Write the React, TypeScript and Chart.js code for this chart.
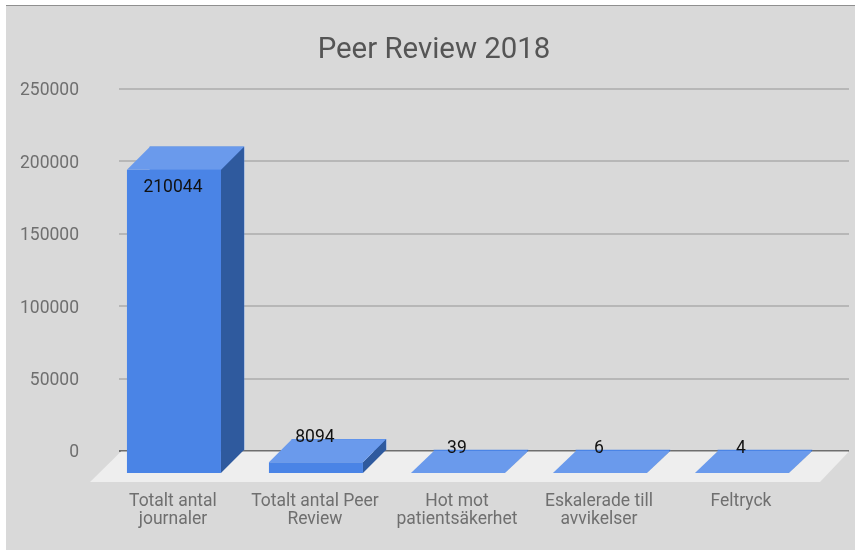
import { useEffect, useRef } from "react";
import { Chart, registerables } from "chart.js";

Chart.register(...registerables);

const categories = [
  ["Totalt antal", "journaler"],
  ["Totalt antal Peer", "Review"],
  ["Hot mot", "patientsäkerhet"],
  ["Eskalerade till", "avvikelser"],
  ["Feltryck"],
];
const values = [210044, 8094, 39, 6, 4];
const yTicks = [0, 50000, 100000, 150000, 200000, 250000];
const chartTitle = "Peer Review 2018";

const DEPTH = 23;
const FLOOR_DEPTH = 31;
const FONT = "Roboto";

const faces = {
  front: "#4a84e6",
  top: "#6a9aec",
  side: "#2f5a9e",
  panel: "#d9d9d9",
  floor: "#eeeeee",
};

// Extrudes each bar towards the viewer and prints its value.
const extrusion = {
  id: "extrusion",
  beforeDraw(chart: any) {
    const { ctx, width } = chart;
    ctx.save();
    ctx.fillStyle = "#ffffff";
    ctx.fillRect(0, 0, width, chart.height);
    ctx.fillStyle = faces.panel;
    ctx.fillRect(6, 6, width - 6, 544);
    ctx.fillStyle = "#8f8f8f";
    ctx.fillRect(6, 5, width - 6, 1);
    ctx.restore();
  },
  beforeDatasetsDraw(chart: any) {
    const { ctx, chartArea, scales } = chart;
    const y0 = scales.y.getPixelForValue(0);
    ctx.save();
    ctx.fillStyle = faces.floor;
    ctx.beginPath();
    ctx.moveTo(chartArea.left + 2, y0 + 0.5);
    ctx.lineTo(chartArea.right, y0 + 0.5);
    ctx.lineTo(chartArea.right - 29, y0 + FLOOR_DEPTH);
    ctx.lineTo(chartArea.left - 29, y0 + FLOOR_DEPTH);
    ctx.closePath();
    ctx.fill();
    ctx.restore();
  },
  afterDatasetsDraw(chart: any) {
    const { ctx, scales } = chart;
    const y0 = scales.y.getPixelForValue(0);
    const bars = chart.getDatasetMeta(0).data;
    ctx.save();
    bars.forEach((bar: any, i: number) => {
      const half = bar.width / 2;
      const backL = bar.x - half;
      const backR = bar.x + half;
      const top = bar.y;
      const frontL = backL - DEPTH;
      const frontR = backR - DEPTH;
      const frontBase = y0 + DEPTH - 1;
      const frontTop = Math.min(top + DEPTH, frontBase);

      ctx.fillStyle = faces.side;
      ctx.beginPath();
      ctx.moveTo(frontR, frontTop);
      ctx.lineTo(backR, top);
      ctx.lineTo(backR, y0 - 1);
      ctx.lineTo(frontR, frontBase);
      ctx.closePath();
      ctx.fill();

      ctx.fillStyle = faces.top;
      ctx.beginPath();
      ctx.moveTo(frontL, frontTop);
      ctx.lineTo(backL, top);
      ctx.lineTo(backR, top);
      ctx.lineTo(frontR, frontTop);
      ctx.closePath();
      ctx.fill();

      ctx.fillStyle = faces.front;
      ctx.fillRect(frontL, frontTop, frontR - frontL, frontBase - frontTop);

      const tall = y0 - top > 100;
      ctx.fillStyle = "#111111";
      ctx.font = `17.5px ${FONT}`;
      ctx.textAlign = "center";
      ctx.textBaseline = "middle";
      ctx.fillText(
        String(values[i]),
        bar.x - DEPTH - 1,
        tall ? frontTop + 18 : top - 2,
      );
    });
    ctx.restore();
  },
};

export default function App() {
  const canvas = useRef<HTMLCanvasElement>(null);

  useEffect(() => {
    const chart = new Chart(canvas.current!, {
      type: "bar",
      data: {
        datasets: [
          {
            data: values.map((v, i) => ({ x: i, y: v })),
            backgroundColor: faces.front,
            barThickness: 94,
          },
        ],
      },
      options: {
        animation: false,
        responsive: false,
        layout: { padding: { left: 19, right: 6, top: 0, bottom: 0 } },
        plugins: {
          legend: { display: false },
          tooltip: { enabled: false },
          title: {
            display: true,
            text: chartTitle,
            color: "#555555",
            font: { family: FONT, size: 29.4, weight: "normal" },
            padding: { top: 33, bottom: 20.7 },
          },
        },
        scales: {
          x: {
            type: "linear",
            min: -0.549,
            max: 4.592,
            offset: false,
            grid: { display: false },
            border: { display: false },
            afterBuildTicks: (axis: any) => {
              axis.ticks = values.map((_, i) => ({ value: i }));
            },
            afterFit: (axis: any) => {
              axis.height = 100;
            },
            ticks: {
              autoSkip: false,
              maxRotation: 0,
              labelOffset: -24,
              padding: 34,
              color: "#6f6f6f",
              font: { family: FONT, size: 17.5, lineHeight: 1 },
              callback: (v: any) => categories[v as number],
            },
          },
          y: {
            min: 0,
            max: 250000,
            afterBuildTicks: (axis: any) => {
              axis.ticks = yTicks.map((value) => ({ value }));
            },
            afterFit: (axis: any) => {
              axis.width = 100;
            },
            grid: {
              drawTicks: false,
              lineWidth: 2,
              color: (c: any) => (c.tick.value === 0 ? "#6e6e6e" : "#b7b7b7"),
            },
            border: { display: false },
            ticks: {
              padding: 40,
              labelOffset: 2,
              color: "#6f6f6f",
              font: { family: FONT, size: 17.5 },
              callback: (v: any) => String(v),
            },
          },
        },
      },
      plugins: [extrusion],
    } as any);
    return () => chart.destroy();
  }, []);

  return (
    <canvas
      ref={canvas}
      width={855}
      height={551}
      style={{ position: "fixed", left: 0, top: 0, display: "block" }}
    />
  );
}
